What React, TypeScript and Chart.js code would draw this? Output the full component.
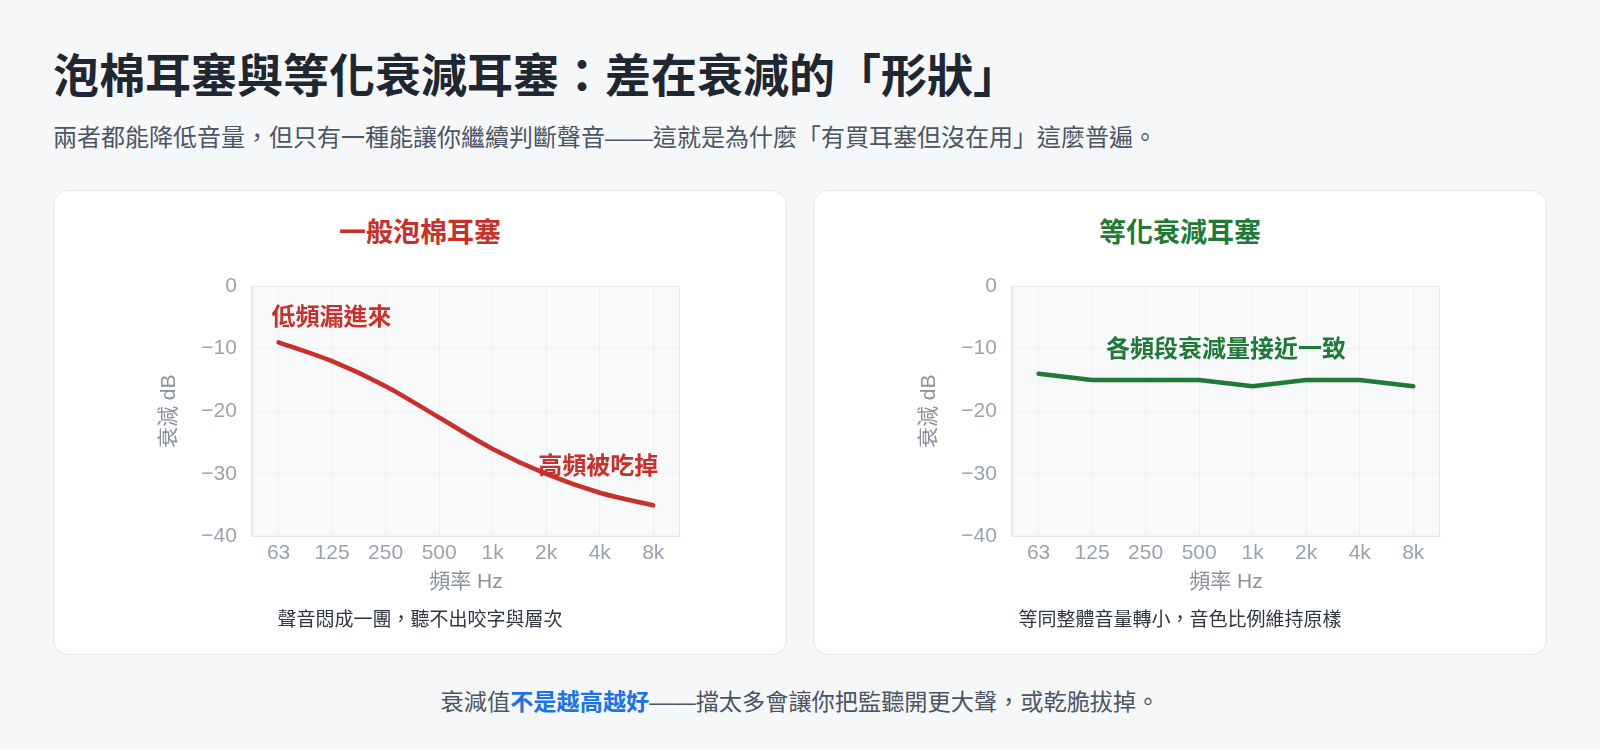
import React, { useEffect, useRef } from "react";
import { Chart, registerables } from "chart.js";

Chart.register(...registerables);

// ---------- data ----------
const FREQ_LABELS = ["63", "125", "250", "500", "1k", "2k", "4k", "8k"];
const FOAM_DB = [-9, -12, -16, -21, -26, -30, -33, -35];
const FLAT_DB = [-14, -15, -15, -15, -16, -15, -15, -16];
const Y_MIN = -40;
const Y_MAX = 0;
const Y_STEP = 10;

const TITLE = "泡棉耳塞與等化衰減耳塞：差在衰減的「形狀」";
const SUBTITLE = "兩者都能降低音量，但只有一種能讓你繼續判斷聲音——這就是為什麼「有買耳塞但沒在用」這麼普遍。";
const FOAM_TITLE = "一般泡棉耳塞";
const FLAT_TITLE = "等化衰減耳塞";
const FOAM_CAPTION = "聲音悶成一團，聽不出咬字與層次";
const FLAT_CAPTION = "等同整體音量轉小，音色比例維持原樣";
const X_TITLE = "頻率 Hz";
const Y_TITLE = "衰減 dB";
const FOOT_A = "衰減值";
const FOOT_B = "不是越高越好";
const FOOT_C = "——擋太多會讓你把監聽開更大聲，或乾脆拔掉。";

const FOAM_NOTES = [
  { text: "低頻漏進來", xIndex: 0, y: -5.1, align: "left", dx: -7 },
  { text: "高頻被吃掉", xIndex: 7, y: -28.9, align: "right", dx: 5 },
];
const FLAT_NOTES = [{ text: "各頻段衰減量接近一致", xIndex: 3.5, y: -10.3, align: "center", dx: 0 }];

// ---------- styles ----------
const FONT = "'Helvetica Neue', Helvetica, Arial, 'Liberation Sans', 'Noto Sans CJK TC', sans-serif";
const RED = "#c8302a";
const GREEN = "#1f7a37";

const plotBox = {
  id: "plotBox",
  beforeDraw(chart: any) {
    const { ctx, chartArea: a } = chart;
    ctx.save();
    ctx.fillStyle = "#f8f9fb";
    ctx.fillRect(a.left, a.top, a.right - a.left, a.bottom - a.top);
    ctx.restore();
  },
  beforeDatasetsDraw(chart: any) {
    const { ctx, chartArea: a } = chart;
    ctx.save();
    ctx.strokeStyle = "#e6e8ec";
    ctx.lineWidth = 1;
    ctx.strokeRect(a.left + 0.5, a.top + 0.5, a.right - a.left - 1, a.bottom - a.top - 1);
    ctx.restore();
  },
};

const textNotes = {
  id: "textNotes",
  afterDatasetsDraw(chart: any, _args: any, opts: any) {
    const notes = (opts && opts.notes) || [];
    const { ctx } = chart;
    const x = chart.scales.x;
    const y = chart.scales.y;
    ctx.save();
    notes.forEach((n: any) => {
      ctx.font = `bold 24px ${FONT}`;
      ctx.fillStyle = opts.color;
      ctx.textAlign = n.align;
      ctx.textBaseline = "middle";
      ctx.fillText(n.text, x.getPixelForValue(n.xIndex) + n.dx, y.getPixelForValue(n.y));
    });
    ctx.restore();
  },
};

function LineCard(props: {
  left: number;
  title: string;
  caption: string;
  values: number[];
  color: string;
  notes: any[];
  tension: number;
}) {
  const ref = useRef<HTMLCanvasElement | null>(null);
  useEffect(() => {
    if (!ref.current) return;
    const tickFont = { size: 21, family: FONT };
    const chart = new Chart(ref.current, {
      type: "line",
      data: {
        labels: FREQ_LABELS,
        datasets: [
          {
            data: props.values,
            borderColor: props.color,
            borderWidth: 4.5,
            pointRadius: 0,
            tension: props.tension,
            borderCapStyle: "round",
            borderJoinStyle: "round",
            fill: false,
          },
        ],
      },
      options: {
        animation: false,
        responsive: true,
        maintainAspectRatio: false,
        layout: { padding: { left: 104, right: 107, top: 36, bottom: 15 } },
        plugins: {
          legend: { display: false },
          tooltip: { enabled: false },
          textNotes: { notes: props.notes, color: props.color },
        } as any,
        scales: {
          x: {
            offset: true,
            grid: { color: "#eef0f3", drawTicks: false, offset: false },
            border: { color: "#e6e8ec" },
            ticks: { color: "#9ca3af", font: tickFont, padding: 4, maxRotation: 0 },
            title: {
              display: true,
              text: X_TITLE,
              color: "#8b929c",
              font: tickFont,
              padding: { top: 0, bottom: 0 },
            },
          },
          y: {
            min: Y_MIN,
            max: Y_MAX,
            grid: { color: "#eef0f3", drawTicks: false },
            border: { color: "#e6e8ec" },
            ticks: {
              stepSize: Y_STEP,
              color: "#9ca3af",
              font: tickFont,
              padding: 15,
              callback: (v: any) => String(v).replace("-", "−"),
            },
            title: {
              display: true,
              text: Y_TITLE,
              color: "#8b929c",
              font: tickFont,
              padding: { top: 0, bottom: 4 },
            },
          },
        },
      },
      plugins: [plotBox, textNotes],
    });
    return () => chart.destroy();
  }, []);

  return (
    <div
      style={{
        position: "absolute",
        left: props.left,
        top: 190,
        width: 734,
        height: 465,
        boxSizing: "border-box",
        background: "#ffffff",
        border: "1px solid #e5e7eb",
        borderRadius: 16,
      }}
    >
      <div
        style={{
          position: "absolute",
          left: 0,
          top: 29,
          width: "100%",
          textAlign: "center",
          fontSize: 27,
          lineHeight: "27px",
          fontWeight: 700,
          color: props.color,
        }}
      >
        {props.title}
      </div>
      <div style={{ position: "absolute", left: -1, top: 59, width: 734, height: 360 }}>
        <canvas ref={ref} />
      </div>
      <div
        style={{
          position: "absolute",
          left: 0,
          top: 419,
          width: "100%",
          textAlign: "center",
          fontSize: 19,
          lineHeight: "19px",
          color: "#2f3640",
        }}
      >
        {props.caption}
      </div>
    </div>
  );
}

export default function App() {
  return (
    <div
      style={{
        position: "absolute",
        left: 0,
        top: 0,
        width: 1600,
        height: 749,
        background: "#f6f7f9",
        fontFamily: FONT,
        overflow: "hidden",
      }}
    >
      <div
        style={{
          position: "absolute",
          left: 53,
          top: 53,
          fontSize: 46,
          lineHeight: "46px",
          fontWeight: 700,
          color: "#1f2733",
          whiteSpace: "nowrap",
        }}
      >
        {TITLE}
      </div>
      <div
        style={{
          position: "absolute",
          left: 53,
          top: 126,
          fontSize: 24,
          lineHeight: "24px",
          color: "#4b5563",
          whiteSpace: "nowrap",
        }}
      >
        {SUBTITLE}
      </div>
      <LineCard left={53} title={FOAM_TITLE} caption={FOAM_CAPTION} values={FOAM_DB} color={RED} notes={FOAM_NOTES} tension={0.35} />
      <LineCard left={813} title={FLAT_TITLE} caption={FLAT_CAPTION} values={FLAT_DB} color={GREEN} notes={FLAT_NOTES} tension={0} />
      <div
        style={{
          position: "absolute",
          left: 0,
          top: 690,
          width: 1600,
          textAlign: "center",
          fontSize: 23.2,
          lineHeight: "24px",
          color: "#4b5563",
          whiteSpace: "nowrap",
        }}
      >
        {FOOT_A}
        <span style={{ color: "#1a73e8", fontWeight: 700 }}>{FOOT_B}</span>
        {FOOT_C}
      </div>
    </div>
  );
}
